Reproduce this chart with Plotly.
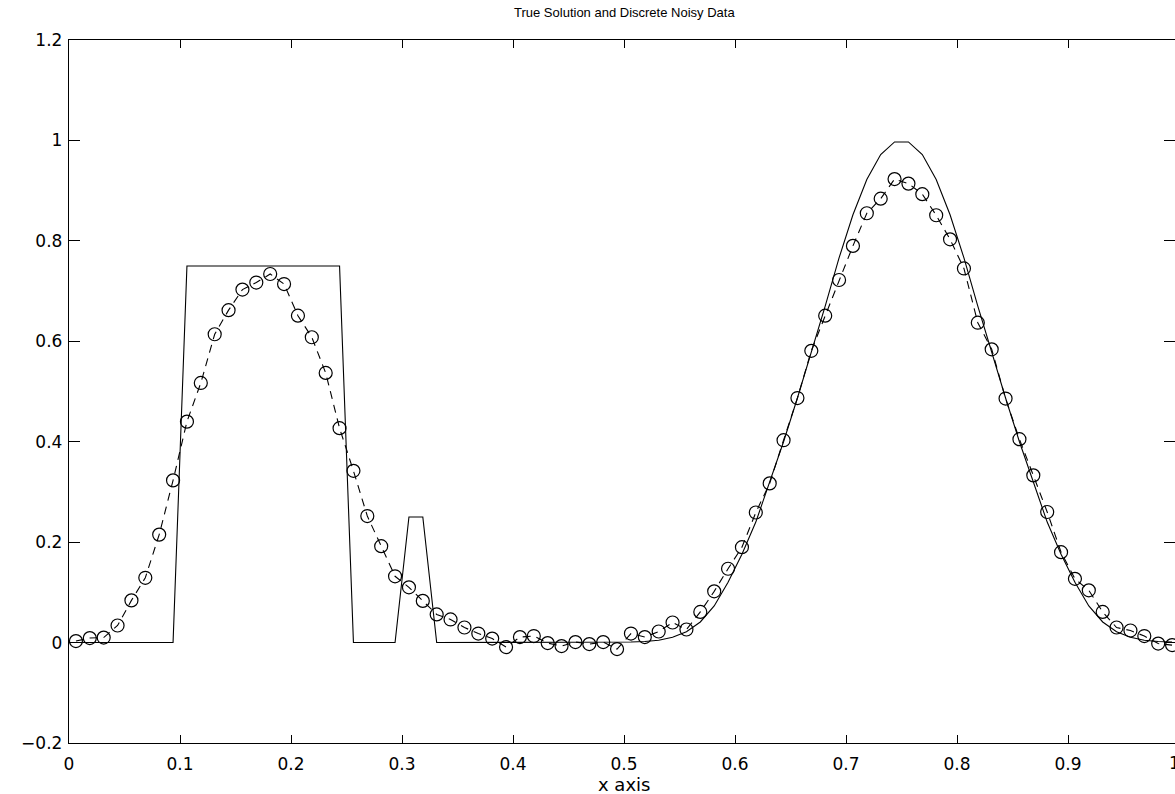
import plotly.graph_objects as go

# grid points (midpoints of 80 cells on [0,1])
x_grid = [0.00625, 0.01875, 0.03125, 0.04375, 0.05625, 0.06875, 0.08125, 0.09375,
          0.10625, 0.11875, 0.13125, 0.14375, 0.15625, 0.16875, 0.18125, 0.19375,
          0.20625, 0.21875, 0.23125, 0.24375, 0.25625, 0.26875, 0.28125, 0.29375,
          0.30625, 0.31875, 0.33125, 0.34375, 0.35625, 0.36875, 0.38125, 0.39375,
          0.40625, 0.41875, 0.43125, 0.44375, 0.45625, 0.46875, 0.48125, 0.49375,
          0.50625, 0.51875, 0.53125, 0.54375, 0.55625, 0.56875, 0.58125, 0.59375,
          0.60625, 0.61875, 0.63125, 0.64375, 0.65625, 0.66875, 0.68125, 0.69375,
          0.70625, 0.71875, 0.73125, 0.74375, 0.75625, 0.76875, 0.78125, 0.79375,
          0.80625, 0.81875, 0.83125, 0.84375, 0.85625, 0.86875, 0.88125, 0.89375,
          0.90625, 0.91875, 0.93125, 0.94375, 0.95625, 0.96875, 0.98125, 0.99375]

# true solution (solid line)
true_solution = [0, 0, 0, 0, 0, 0, 0, 0,
                 0.75, 0.75, 0.75, 0.75, 0.75, 0.75, 0.75, 0.75,
                 0.75, 0.75, 0.75, 0.75, 0, 0, 0, 0,
                 0.25, 0.25, 0, 0, 0, 0, 0, 0,
                 0, 0, 0, 0, 0, 0, 0, 0,
                 0.001, 0.002, 0.0047, 0.0105, 0.0217, 0.041, 0.073, 0.120,
                 0.176, 0.240, 0.318, 0.400, 0.487, 0.578, 0.670, 0.766,
                 0.852, 0.922, 0.972, 0.997, 0.997, 0.972, 0.922, 0.852,
                 0.766, 0.670, 0.578, 0.487, 0.400, 0.318, 0.240, 0.176,
                 0.120, 0.073, 0.041, 0.0217, 0.0105, 0.0047, 0.002, 0.001]

# discrete noisy data (circles, dashed)
noisy_data = [0.003, 0.009, 0.010, 0.034, 0.084, 0.129, 0.215, 0.323,
              0.440, 0.517, 0.614, 0.662, 0.703, 0.717, 0.734, 0.714,
              0.651, 0.608, 0.537, 0.427, 0.342, 0.252, 0.192, 0.132,
              0.110, 0.083, 0.056, 0.046, 0.030, 0.018, 0.008, -0.009,
              0.011, 0.013, -0.001, -0.007, 0.001, -0.003, 0.001, -0.013,
              0.018, 0.011, 0.022, 0.040, 0.026, 0.061, 0.102, 0.147,
              0.190, 0.259, 0.317, 0.403, 0.487, 0.581, 0.651, 0.722,
              0.790, 0.855, 0.884, 0.923, 0.914, 0.893, 0.851, 0.803,
              0.745, 0.637, 0.584, 0.486, 0.405, 0.333, 0.260, 0.180,
              0.127, 0.104, 0.061, 0.030, 0.024, 0.013, -0.002, -0.005]

x_ticks = [0, 0.1, 0.2, 0.3, 0.4, 0.5, 0.6, 0.7, 0.8, 0.9]
x_ticklabels = ["0", "0.1", "0.2", "0.3", "0.4", "0.5", "0.6", "0.7", "0.8", "0.9"]
y_ticks = [-0.2, 0, 0.2, 0.4, 0.6, 0.8, 1.0, 1.2]
y_ticklabels = ["\u22120.2", "0", "0.2", "0.4", "0.6", "0.8", "1", "1.2"]

TICK_FONT = "DejaVu Sans, Verdana, sans-serif"
TITLE_FONT = "Liberation Sans, Arial, Helvetica, sans-serif"
TICK_FS = 17
TITLE_FS = 13
XLABEL_FS = 18

W, H = 1175, 794
ML, MR, MT, MB = 69, 0, 40, 51
PW = W - ML - MR
PH = H - MT - MB
X_PER_UNIT = 1110.0
x_max = PW / X_PER_UNIT

fig = go.Figure()
fig.add_trace(go.Scatter(x=x_grid, y=true_solution, mode="lines",
                         line=dict(color="black", width=1.1), showlegend=False,
                         hoverinfo="skip"))
fig.add_trace(go.Scatter(x=x_grid, y=noisy_data, mode="lines+markers",
                         line=dict(color="black", width=1.1, dash="8px,6px"),
                         marker=dict(symbol="circle-open", size=13, color="black",
                                     line=dict(width=1.2, color="black")),
                         showlegend=False, cliponaxis=False, hoverinfo="skip"))

fig.update_layout(
    width=W, height=H,
    margin=dict(l=ML, r=MR, t=MT, b=MB, pad=0),
    paper_bgcolor="white", plot_bgcolor="white",
    font=dict(family=TICK_FONT, size=TICK_FS, color="black"),
    xaxis=dict(range=[0, x_max], tickvals=x_ticks, ticktext=x_ticklabels,
               ticks="inside", ticklen=8, tickwidth=1, tickcolor="black",
               showline=True, linecolor="black", linewidth=1.2, mirror="allticks",
               showgrid=False, zeroline=False, ticklabelstandoff=5,
               tickfont=dict(family=TICK_FONT, size=TICK_FS, color="black")),
    yaxis=dict(range=[-0.2, 1.2], tickvals=y_ticks, ticktext=y_ticklabels,
               ticks="inside", ticklen=11, tickwidth=1, tickcolor="black",
               showline=True, linecolor="black", linewidth=1.2, mirror="allticks",
               showgrid=False, zeroline=False, ticklabelstandoff=2,
               tickfont=dict(family=TICK_FONT, size=TICK_FS, color="black")),
)

# title
fig.add_annotation(text="True Solution and Discrete Noisy Data", xref="paper", yref="paper",
                   x=(624 - ML) / PW, y=1 + (MT - 12) / PH, xanchor="center", yanchor="middle",
                   showarrow=False, font=dict(family=TITLE_FONT, size=TITLE_FS, color="black"))
# x axis label
fig.add_annotation(text="x axis", xref="paper", yref="paper",
                   x=(624 - ML) / PW, y=-(785 - (H - MB)) / PH, xanchor="center", yanchor="middle",
                   showarrow=False, font=dict(family=TICK_FONT, size=XLABEL_FS, color="black"))
# the "1" tick label sits just past the visible right edge
fig.add_annotation(text="1", xref="paper", yref="paper",
                   x=(1174 - ML) / PW, y=0, xanchor="center", yanchor="top", yshift=-8,
                   showarrow=False, font=dict(family=TICK_FONT, size=TICK_FS, color="black"))

fig.write_html("out.html",
               config={"displayModeBar": False, "staticPlot": True},
               post_script="document.body.style.margin='0';document.body.style.overflow='hidden';")
